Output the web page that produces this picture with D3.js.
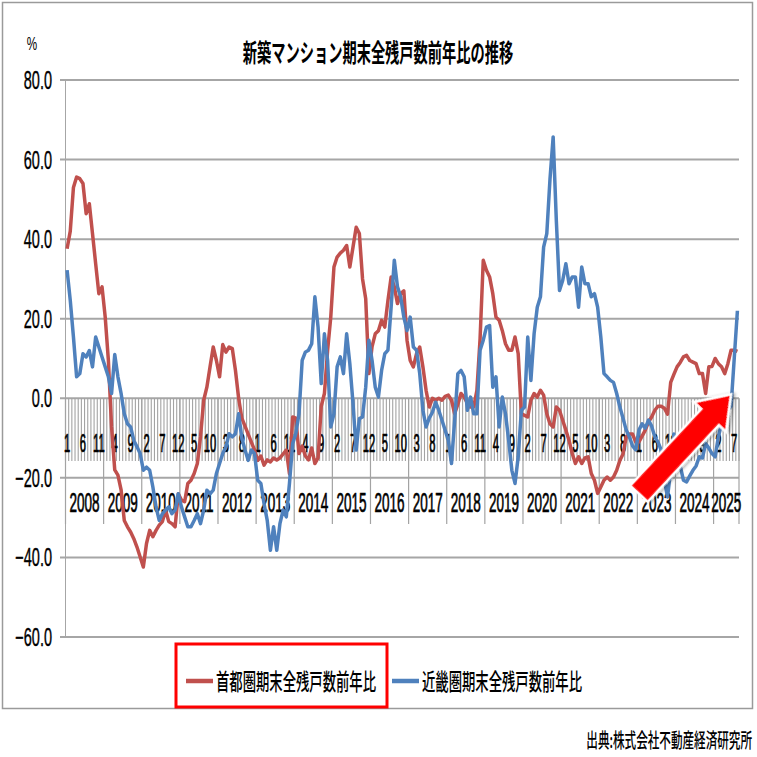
<!DOCTYPE html>
<html>
<head>
<meta charset="utf-8">
<script src="https://cdn.jsdelivr.net/npm/d3@7"></script>
<style>
  body { margin: 0; background: #fff; }
  svg { display: block; }
</style>
</head>
<body>
<div id="chart"></div>
<script>
// categories: monthly, Jan 2008 .. Aug 2025
const years = ["2008", "2009", "2010", "2011", "2012", "2013", "2014", "2015", "2016",
  "2017", "2018", "2019", "2020", "2021", "2022", "2023", "2024", "2025"];
const lastYearMonths = 8;

const yTicks = [80, 60, 40, 20, 0, -20, -40, -60];
const seriesNames = ["首都圏期末全残戸数前年比", "近畿圏期末全残戸数前年比"];

// 首都圏 (%)
const shutoken = [
  37.6, 42, 53, 55.6, 55.2, 54, 46.4, 48.9, 41.4, 33.8, 26.3, 28,
  20.4, 9.5, -7.2, -18, -19.3, -23, -30.7, -32.3, -33.6, -35.3, -37.4, -39.9,
  -42.4, -36.5, -33.2, -34.8, -33.2, -31.9, -31, -28.1, -31, -31.5, -32.3, -24,
  -25.6, -26, -21.4, -20.6, -18.9, -16.4, -9.7, -0.5, 2.8, 7.9, 12.9, 9.5,
  5.4, 13.5, 11.6, 12.9, 12.5, 7, 0, -5, -7, -9, -11, -13,
  -15.6, -14.5, -16.8, -15.5, -16, -15, -15.5, -15, -14, -13, -19, -4.7,
  -5, -13.9, -12, -14.5, -15.5, -12.5, -16.4, -15, -2, 1.2, 12, 20.4,
  33, 35.5, 36.5, 37.2, 38.4, 33, 38, 43, 41.4, 30, 25, 6.2,
  13, 16.2, 17, 19.6, 17.9, 24.6, 30.5, 28, 23.8, 26.3, 27, 14.6,
  9.5, 7.9, 11.2, 12.9, 7.9, 2, -2.2, 0, -0.5, 0, -0.5, 0.5,
  0.8, -0.5, -3.9, -1.5, 1.2, 0.3, -1.2, -2.2, -2.2, 2, 15, 34.7,
  32.2, 30.5, 26.3, 20.4, 19.6, 17, 13.7, 12.1, 12.1, 15.4, 11.2, -3.9,
  -4.3, -4.7, -0.5, 1.2, 0.3, 2, 0.8, -3.9, -6.4, -7.2, -2.2, -3,
  -5.5, -8, -10.6, -13.9, -16.4, -14.7, -16.4, -15, -14.7, -18.9, -20.6, -23.9,
  -22.3, -20.6, -19.8, -20.6, -19.8, -18.1, -15.6, -14, -9.7, -9, -9, -11,
  -11, -9.5, -8, -6, -4.7, -3, -2, -2, -2.5, -4, 4, 6,
  7.9, 9, 10.4, 10.8, 9.5, 9.1, 8.7, 6.2, 6.2, 1.2, 7.9, 8,
  10, 8.7, 7.9, 6.2, 8.7, 12.1, 12.1, 11.8
];

// 近畿圏 (%)
const kinki = [
  32.2, 24.6, 15.4, 5.4, 6.2, 11.2, 10.4, 12, 7.9, 15.4, 12.9, 10.4,
  7.9, 5.4, 1.2, 11, 5.4, 1.2, -3.9, -6.4, -7.2, -10.6, -12.2, -13.9,
  -18.1, -17.3, -18.1, -22.3, -27.3, -30.7, -29, -28.1, -27.3, -29, -28.1, -24,
  -27.3, -29.8, -32.3, -32.3, -30.7, -29, -31.5, -28.1, -23.1, -24, -23.1, -18.9,
  -16.4, -13.9, -12.2, -8.9, -9.7, -8.9, -3.9, -10, -13, -15.6, -13, -13.9,
  -20.6, -21.4, -26.5, -30.7, -38.2, -32.3, -38.2, -31.5, -28.1, -29.8, -21.4, -11.4,
  -8.9, -3.9, 9.5, 11.6, 12.1, 13.7, 25.5, 17.9, 3.7, 16.2, 9.5, -7.2,
  -3.9, 7.9, 10.4, 6.2, 16.2, 8.7, -1.3, -13, -5.1, -4.7, 2.8, 14.6,
  9.5, 2.8, 0.3, 7, 11.2, 12.1, 22.9, 34.7, 28, 25.5, 20.4, 17,
  20.4, 12.9, 12.1, 6.2, -3, -7.2, -5, -3.5, -1, -3, -5.5, -8,
  -10.6, -16.4, -5.5, 6.2, 7, 5.4, -3, 0.3, -3.9, -3.9, 12.1, 14.6,
  17.9, 18.3, 2.8, 5.4, -7.2, 0.3, -3.9, -10.6, -18.1, -21.4, -14.7, -3,
  -2.2, 15.4, 4.5, 16.2, 22.9, 25.5, 38, 41.4, 55, 65.7, 44.7, 27.1,
  29.6, 33.8, 28.8, 30.5, 30.5, 22.9, 33, 28.8, 28.8, 25.5, 26.3, 22.9,
  15.4, 6.2, 5.4, 4.5, 4, 1.2, -2.2, -5, -8, -9.7, -12, -13,
  -8, -6.4, -7.5, -5.5, -7, -9.7, -11, -13, -20.6, -24.8, -18.1, -9,
  -14, -17, -20.6, -21, -19.5, -18.1, -17, -14.7, -15, -11.4, -12.5, -13.9,
  -14.7, -9.7, -6.4, -3.9, -3, -2, 10, 22
];

// annotation arrow (month index, value)
const arrowFrom = { month: 180, value: -24 };
const arrowTo = { month: 209, value: 1 };

const W = 757, H = 757;
const latin = "'Liberation Sans', Arial, sans-serif";
const cjk = "'Noto Sans CJK JP', 'Noto Sans', sans-serif";
const colors = ["#c0504d", "#4f81bd"];

const months = [];
years.forEach((yr, yi) => {
  const n = yi === years.length - 1 ? lastYearMonths : 12;
  for (let m = 1; m <= n; m++) months.push({ year: yr, month: m });
});

const svg = d3.select("#chart").append("svg")
  .attr("width", W).attr("height", H)
  .attr("viewBox", `0 0 ${W} ${H}`);

const defs = svg.append("defs");
defs.append("filter").attr("id", "shadow")
  .attr("x", "-20%").attr("y", "-20%").attr("width", "140%").attr("height", "140%")
  .append("feDropShadow")
  .attr("dx", 2).attr("dy", 2).attr("stdDeviation", 1.5)
  .attr("flood-color", "#000").attr("flood-opacity", 0.35);

// squeezed text helper (the reference is horizontally compressed)
function squeezed(parent, x, y, str, size, sx, anchor, family, weight) {
  return parent.append("text")
    .attr("transform", `translate(${x},${y}) scale(${sx},1)`)
    .attr("text-anchor", anchor)
    .attr("font-family", family)
    .attr("font-size", size)
    .attr("font-weight", weight || "normal")
    .attr("fill", "#000")
    .text(str);
}

// frame
svg.append("rect")
  .attr("x", 2.5).attr("y", 2.5).attr("width", 750).attr("height", 706)
  .attr("fill", "#fff").attr("stroke", "#9a9a9a").attr("stroke-width", 1.5);

const x = d3.scaleBand().domain(d3.range(months.length)).range([65.5, 739]).padding(0);
const y = d3.scaleLinear().domain([-60, 80]).range([637, 80]);
const bw = x.bandwidth();
const cx = i => x(i) + bw / 2;

// title and unit
squeezed(svg, 378, 62, "新築マンション期末全残戸数前年比の推移", 25, 0.57, "middle", cjk, "bold");
squeezed(svg, 32, 50, "%", 18, 0.65, "middle", latin);

// gridlines
svg.append("g").selectAll("line").data(yTicks).join("line")
  .attr("x1", 60).attr("x2", 739)
  .attr("y1", d => y(d)).attr("y2", d => y(d))
  .attr("stroke", "#a6a6a6").attr("stroke-width", 2);

svg.append("line")
  .attr("x1", 65.5).attr("x2", 65.5)
  .attr("y1", y(80)).attr("y2", y(-60))
  .attr("stroke", "#a6a6a6").attr("stroke-width", 1);

// y labels
const yLab = svg.append("g").attr("stroke", "#000").attr("stroke-width", 0.4);
yTicks.forEach(t => {
  squeezed(yLab, 52, y(t) + 9, d3.format(".1f")(t), 25, 0.58, "end", latin);
});

// category axis: month ticks (hatch) and year dividers
const axisTop = y(0);
const edges = d3.range(months.length + 1);
svg.append("g").selectAll("line").data(edges).join("line")
  .attr("x1", k => x.range()[0] + k * x.step())
  .attr("x2", k => x.range()[0] + k * x.step())
  .attr("y1", axisTop).attr("y2", 461)
  .attr("stroke", "#a3a3a3").attr("stroke-width", 1.1);

const yearEdges = [];
let acc = 0;
years.forEach((yr, yi) => {
  const n = yi === years.length - 1 ? lastYearMonths : 12;
  yearEdges.push({ yr, start: acc, end: acc + n });
  acc += n;
});
svg.append("g").selectAll("line").data([0].concat(yearEdges.map(d => d.end))).join("line")
  .attr("x1", k => x.range()[0] + k * x.step())
  .attr("x2", k => x.range()[0] + k * x.step())
  .attr("y1", axisTop).attr("y2", 524)
  .attr("stroke", "#a3a3a3").attr("stroke-width", 1.2);

const mLab = svg.append("g").attr("stroke", "#000").attr("stroke-width", 0.7);
months.forEach((d, i) => {
  if (i % 5 === 0) squeezed(mLab, cx(i), 452, String(d.month), 25, 0.45, "middle", latin);
});
const yrLab = svg.append("g").attr("stroke", "#000").attr("stroke-width", 0.7);
yearEdges.forEach(d => {
  const mid = x.range()[0] + (d.start + d.end) / 2 * x.step();
  squeezed(yrLab, mid, 512, d.yr, 27, 0.5, "middle", latin);
});

// series
const line = d3.line().x((d, i) => cx(i)).y(d => y(d));
[shutoken, kinki].forEach((s, k) => {
  svg.append("path")
    .datum(s)
    .attr("fill", "none")
    .attr("stroke", colors[k])
    .attr("stroke-width", 3.5)
    .attr("stroke-linejoin", "round")
    .attr("d", line);
});

// annotation arrow
(function drawArrow() {
  const x0 = cx(arrowFrom.month), y0 = y(arrowFrom.value);
  const x1 = cx(arrowTo.month), y1 = y(arrowTo.value);
  const len = Math.hypot(x1 - x0, y1 - y0);
  const ang = Math.atan2(y1 - y0, x1 - x0) * 180 / Math.PI;
  const hw = 12, hh = 22, hl = 31;
  const pts = [[0, -hw], [len - hl, -hw], [len - hl, -hh], [len, 0],
    [len - hl, hh], [len - hl, hw], [0, hw]];
  svg.append("polygon")
    .attr("points", pts.map(p => p.join(",")).join(" "))
    .attr("transform", `translate(${x0},${y0}) rotate(${ang})`)
    .attr("fill", "#ff0000")
    .attr("stroke", "#fff")
    .attr("stroke-width", 2.5)
    .attr("stroke-linejoin", "miter")
    .attr("filter", "url(#shadow)");
})();

// legend
const legendX = [186, 392];
const leg = svg.append("g");
seriesNames.forEach((name, k) => {
  leg.append("line")
    .attr("x1", legendX[k]).attr("x2", legendX[k] + 27)
    .attr("y1", 681).attr("y2", 681)
    .attr("stroke", colors[k]).attr("stroke-width", 4.5);
  squeezed(leg, legendX[k] + 30, 690, name, 23, 0.58, "start", cjk, "500");
});
leg.append("rect")
  .attr("x", 176).attr("y", 644).attr("width", 211).attr("height", 63)
  .attr("fill", "none").attr("stroke", "#ff0000").attr("stroke-width", 3);

// source
squeezed(svg, 752, 748, "出典:株式会社不動産経済研究所", 20, 0.58, "end", cjk, "500");
</script>
</body>
</html>
